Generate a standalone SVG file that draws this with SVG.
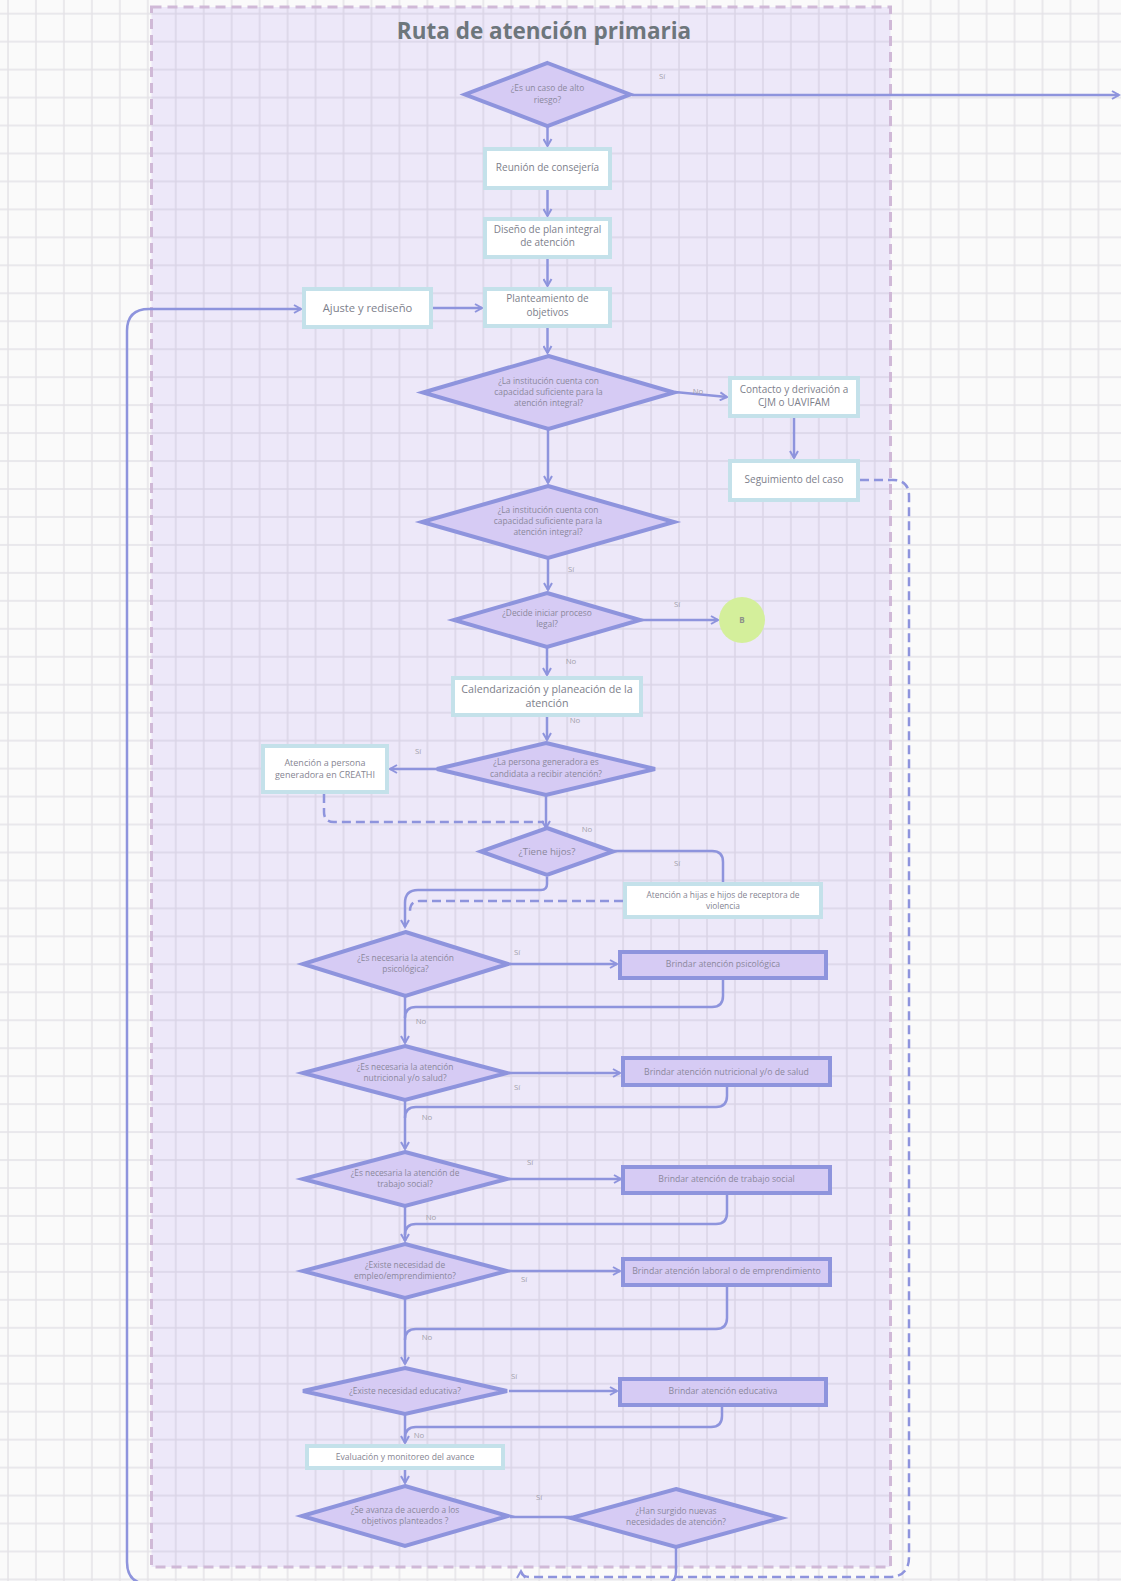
<svg xmlns="http://www.w3.org/2000/svg" width="1121" height="1581" viewBox="0 0 1121 1581">
<style>
.bx{fill:#ffffff;stroke:#c4e1ea;stroke-width:4}
.pb{fill:#d6cbf4;stroke:#8e94dd;stroke-width:4}
.dm{fill:#d6cbf4;stroke:#8e94dd;stroke-width:4;stroke-linejoin:miter}
.c{fill:none;stroke:#8e94dd;stroke-width:2.5}
.ca{fill:none;stroke:#8e94dd;stroke-width:2.5;marker-end:url(#ah)}
.cd{fill:none;stroke:#8e94dd;stroke-width:2.5;stroke-dasharray:9 5}
text{font-family:"Open Sans","Noto Sans","Liberation Sans",sans-serif;text-anchor:middle}
.t{font-size:10px;fill:#7d808b}
.ts{font-size:9px;fill:#868592}
.td{font-size:8.4px;fill:#8b889c}
.tp{font-size:8.7px;fill:#8b889c}
.l{font-size:7.8px;fill:#a2a1ab}
</style>
<defs>
<pattern id="grid" patternUnits="userSpaceOnUse" x="-6" y="-0.3" width="27.96" height="27.96">
<path d="M14 0V27.96M0 14H27.96" stroke="rgba(140,130,155,0.2)" stroke-width="1.5" fill="none"/>
</pattern>
<marker id="ah" viewBox="0 0 10 10" refX="8" refY="5" markerWidth="4" markerHeight="4" orient="auto" markerUnits="strokeWidth">
<path d="M1 1L8 5L1 9" fill="none" stroke="#8e94dd" stroke-width="2"/>
</marker>
</defs>
<rect x="0" y="0" width="1121" height="1581" fill="#fafafa"/>
<rect x="151.5" y="7" width="739" height="1560" fill="#ede8f9"/>
<rect x="0" y="0" width="1121" height="1581" fill="url(#grid)"/>
<rect id="container" x="151.5" y="7" width="739" height="1560" fill="none" stroke="#d0b9d7" stroke-width="3" stroke-dasharray="10 6"/>
<text x="544" y="39" style="font-size:22.5px;font-weight:bold;fill:#6d767c">Ruta de atención primaria</text>

<g id="connectors">
<path class="ca" d="M547.5 127V146"/>
<path class="ca" d="M547.5 190V216"/>
<path class="ca" d="M547.5 259V286"/>
<path class="ca" d="M547.5 328V353"/>
<path class="ca" d="M632 95H1119"/>
<path class="ca" d="M433 308H482"/>
<path class="ca" d="M675 392L727 397"/>
<path class="ca" d="M548 430V483"/>
<path class="ca" d="M794 418V458"/>
<path class="ca" d="M548 559V590"/>
<path class="ca" d="M641 620H718"/>
<path class="ca" d="M547 648V675"/>
<path class="ca" d="M547 717V740"/>
<path class="ca" d="M437 769H390"/>
<path class="ca" d="M546 796V828"/>
<path class="cd" d="M324 794V812Q324 822 334 822H544"/>
<path class="c" d="M614 851H712Q723 851 723 862V882"/>
<path class="ca" d="M547 877V884Q547 890 541 890H418Q405 890 405 903V927"/>
<path class="cd" d="M623 901H420Q410 901 410 911"/>
<path class="ca" d="M510 964H617"/>
<path class="c" d="M723 979V996Q723 1007 712 1007H416Q405 1007 405 1018"/>
<path class="ca" d="M405 997V1043"/>
<path class="ca" d="M509 1073H620"/>
<path class="c" d="M727 1087V1096Q727 1107 716 1107H416Q405 1107 405 1118"/>
<path class="ca" d="M405 1100V1149"/>
<path class="ca" d="M509 1179H621"/>
<path class="c" d="M727 1195V1213Q727 1224 716 1224H416Q405 1224 405 1235"/>
<path class="ca" d="M405 1206V1241"/>
<path class="ca" d="M509 1271H620"/>
<path class="c" d="M727 1287V1318Q727 1329 716 1329H416Q405 1329 405 1340"/>
<path class="ca" d="M405 1298V1364"/>
<path class="ca" d="M509 1391H617"/>
<path class="c" d="M722 1407V1416Q722 1427 711 1427H416Q405 1427 405 1438"/>
<path class="ca" d="M405 1413V1443"/>
<path class="ca" d="M405 1470V1483"/>
<path class="c" d="M510 1517H572"/>
<path class="ca" d="M676 1547V1572Q676 1584 664 1584H149Q127 1584 127 1562V331Q127 309 149 309H301"/>
<path class="cd" d="M860 480H893Q909 480 909 496V1557Q909 1577 889 1577H531Q521 1577 521 1571" marker-end="url(#ah)"/>
<text class="l" x="662" y="79">Sí</text>
<text class="l" x="698" y="394">No</text>
<text class="l" x="571" y="572">Sí</text>
<text class="l" x="677" y="607">Sí</text>
<text class="l" x="571" y="664">No</text>
<text class="l" x="575" y="723">No</text>
<text class="l" x="418" y="754">Sí</text>
<text class="l" x="587" y="832">No</text>
<text class="l" x="677" y="866">Sí</text>
<text class="l" x="517" y="955">Sí</text>
<text class="l" x="421" y="1024">No</text>
<text class="l" x="517" y="1090">Sí</text>
<text class="l" x="427" y="1120">No</text>
<text class="l" x="530" y="1165">Sí</text>
<text class="l" x="431" y="1220">No</text>
<text class="l" x="524" y="1282">Sí</text>
<text class="l" x="427" y="1340">No</text>
<text class="l" x="514" y="1379">Sí</text>
<text class="l" x="419" y="1438">No</text>
<text class="l" x="539" y="1500">Sí</text>
</g>

<g id="d-alto-riesgo"><polygon class="dm" points="547.5,63 630,94.5 547.5,126 465,94.5"/><text class="td" x="547.5" y="91">¿Es un caso de alto</text><text class="td" x="547.5" y="103">riesgo?</text></g>
<g id="n-reunion"><rect class="bx" x="485" y="149" width="125" height="39"/><text class="t" x="547.5" y="171">Reunión de consejería</text></g>
<g id="n-diseno"><rect class="bx" x="485" y="219" width="125" height="38"/><text class="t" x="547.5" y="233">Diseño de plan integral</text><text class="t" x="547.5" y="246">de atención</text></g>
<g id="n-planteamiento"><rect class="bx" x="485" y="289" width="125" height="37"/><text class="t" x="547.5" y="302">Planteamiento de</text><text class="t" x="547.5" y="316">objetivos</text></g>
<g id="n-ajuste"><rect class="bx" x="304" y="289" width="127" height="38"/><text class="t" x="367.5" y="312" style="font-size:11.2px">Ajuste y rediseño</text></g>
<g id="d-capacidad1"><polygon class="dm" points="548.5,356 674,392.5 548.5,429 423,392.5"/><text class="td" x="548.5" y="384">¿La institución cuenta con</text><text class="td" x="548.5" y="395">capacidad suficiente para la</text><text class="td" x="548.5" y="406">atención integral?</text></g>
<g id="n-contacto"><rect class="bx" x="730" y="378" width="128" height="38"/><text class="t" x="794" y="393">Contacto y derivación a</text><text class="t" x="794" y="406">CJM o UAVIFAM</text></g>
<g id="n-seguimiento"><rect class="bx" x="730" y="461" width="128" height="39"/><text class="t" x="794" y="483">Seguimiento del caso</text></g>
<g id="d-capacidad2"><polygon class="dm" points="548,486 674,522 548,558 422,522"/><text class="td" x="548" y="513">¿La institución cuenta con</text><text class="td" x="548" y="524">capacidad suficiente para la</text><text class="td" x="548" y="535">atención integral?</text></g>
<g id="d-legal"><polygon class="dm" points="547,593 640,620 547,647 454,620"/><text class="td" x="547" y="616">¿Decide iniciar proceso</text><text class="td" x="547" y="627">legal?</text></g>
<g id="n-b"><circle cx="742" cy="620" r="23" fill="#d4ef9b"/><text x="742" y="623" style="font-size:8px;font-weight:bold;fill:#8c8f8a">B</text></g>
<g id="n-calendarizacion"><rect class="bx" x="453" y="678" width="188" height="37"/><text class="t" x="547" y="693" style="font-size:10.7px">Calendarización y planeación de la</text><text class="t" x="547" y="707" style="font-size:10.7px">atención</text></g>
<g id="d-generadora"><polygon class="dm" points="546,743 655,769 546,795 437,769"/><text class="td" x="546" y="765">¿La persona generadora es</text><text class="td" x="546" y="777">candidata a recibir atención?</text></g>
<g id="n-creathi"><rect class="bx" x="263" y="746" width="124" height="46"/><text class="ts" x="325" y="766">Atención a persona</text><text class="ts" x="325" y="778">generadora en CREATHI</text></g>
<g id="d-hijos"><polygon class="dm" points="547,828 613,851.5 547,875 481,851.5"/><text class="td" x="547" y="855" style="font-size:9.7px">¿Tiene hijos?</text></g>
<g id="n-hijos"><rect class="bx" x="625" y="884" width="196" height="33"/><text class="td" x="723" y="898" style="fill:#868592">Atención a hijas e hijos de receptora de</text><text class="td" x="723" y="909" style="fill:#868592">violencia</text></g>
<g id="d-psico"><polygon class="dm" points="405.5,932 508,964 405.5,996 303,964"/><text class="td" x="405.5" y="961">¿Es necesaria la atención</text><text class="td" x="405.5" y="972">psicológica?</text></g>
<g id="n-psico"><rect class="pb" x="620" y="952" width="206" height="26"/><text class="tp" x="723" y="967">Brindar atención psicológica</text></g>
<g id="d-nutri"><polygon class="dm" points="405,1046 507,1073 405,1100 303,1073"/><text class="td" x="405" y="1070">¿Es necesaria la atención</text><text class="td" x="405" y="1081">nutricional y/o salud?</text></g>
<g id="n-nutri"><rect class="pb" x="623" y="1058" width="207" height="27"/><text class="tp" x="726.5" y="1075">Brindar atención nutricional y/o de salud</text></g>
<g id="d-social"><polygon class="dm" points="405,1152 507,1179 405,1206 303,1179"/><text class="td" x="405" y="1176">¿Es necesaria la atención de</text><text class="td" x="405" y="1187">trabajo social?</text></g>
<g id="n-social"><rect class="pb" x="623" y="1167" width="207" height="26"/><text class="tp" x="726.5" y="1182">Brindar atención de trabajo social</text></g>
<g id="d-empleo"><polygon class="dm" points="405,1244 507,1271 405,1298 303,1271"/><text class="td" x="405" y="1268">¿Existe necesidad de</text><text class="td" x="405" y="1279">empleo/emprendimiento?</text></g>
<g id="n-laboral"><rect class="pb" x="623" y="1259" width="207" height="26"/><text class="tp" x="726.5" y="1274">Brindar atención laboral o de emprendimiento</text></g>
<g id="d-educativa"><polygon class="dm" points="405,1368 507,1391 405,1414 303,1391"/><text class="td" x="405" y="1394">¿Existe necesidad educativa?</text></g>
<g id="n-educativa"><rect class="pb" x="620" y="1379" width="206" height="26"/><text class="tp" x="723" y="1394">Brindar atención educativa</text></g>
<g id="n-evaluacion"><rect class="bx" x="307" y="1446" width="196" height="22"/><text class="ts" x="405" y="1460" style="font-size:8.6px">Evaluación y monitoreo del avance</text></g>
<g id="d-avanza"><polygon class="dm" points="405,1486 508,1516 405,1546 302,1516"/><text class="td" x="405" y="1513">¿Se avanza de acuerdo a los</text><text class="td" x="405" y="1524">objetivos planteados ?</text></g>
<g id="d-nuevas"><polygon class="dm" points="676,1489 781,1518 676,1547 571,1518"/><text class="td" x="676" y="1514">¿Han surgido nuevas</text><text class="td" x="676" y="1525">necesidades de atención?</text></g>
</svg>
